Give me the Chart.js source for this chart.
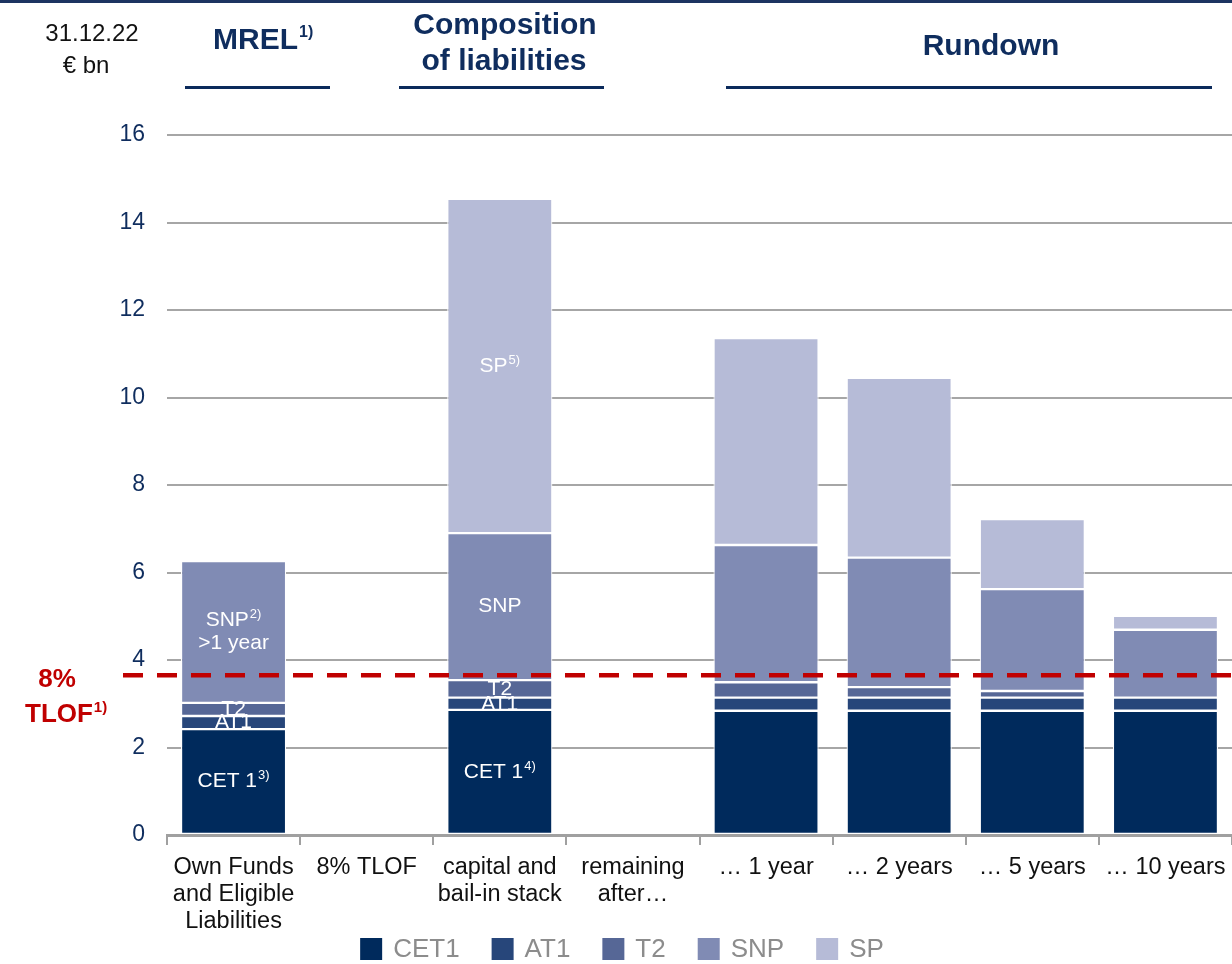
<!DOCTYPE html>
<html>
<head>
<meta charset="utf-8">
<title>MREL – capital and bail-in stack</title>
<script src="https://cdn.jsdelivr.net/npm/chart.js@4.4.1/dist/chart.umd.min.js"></script>
<style>
  html, body { margin: 0; padding: 0; background: #fff; overflow: hidden; }
  #wrap { width: 1232px; height: 964px; position: relative; }
</style>
</head>
<body>
<div id="wrap"><canvas id="c" width="1232" height="964"></canvas></div>
<script>
// Categories along the x axis (multi-line where the label wraps)
const categories = [
  ['Own Funds', 'and Eligible', 'Liabilities'],
  '8% TLOF',
  ['capital and', 'bail-in stack'],
  ['remaining', 'after…'],
  '… 1 year',
  '… 2 years',
  '… 5 years',
  '… 10 years'
];

// Stacked components, € bn (null = no bar in that column)
const cet1 = [2.42, null, 2.86, null, 2.84, 2.84, 2.84, 2.84];
const at1  = [0.30, null, 0.28, null, 0.30, 0.30, 0.30, 0.30];
const t2   = [0.30, null, 0.40, null, 0.35, 0.24, 0.15, 0];
const snp  = [3.24, null, 3.36, null, 3.14, 2.96, 2.33, 1.55];
const sp   = [null, null, 7.64, null, 4.73, 4.11, 1.60, 0.32];

const seriesNames = ['CET1', 'AT1', 'T2', 'SNP', 'SP'];
const seriesColors = ['#002A5C', '#27467A', '#566796', '#808BB4', '#B6BBD7'];

// 8% of total liabilities and own funds, € bn
const tlofThreshold = 3.65;

// Value axis
const yMin = 0, yMax = 16, yStep = 2;

// In-bar captions: [dataset index, category index, lines of [text, superscript]]
const segmentLabels = [
  [3, 0, [['SNP', '2)'], ['>1 year', '']]],
  [2, 0, [['T2', '']]],
  [1, 0, [['AT1', '']]],
  [0, 0, [['CET 1', '3)']]],
  [4, 2, [['SP', '5)']]],
  [3, 2, [['SNP', '']]],
  [2, 2, [['T2', '']]],
  [1, 2, [['AT1', '']]],
  [0, 2, [['CET 1', '4)']]]
];

const NAVY = '#0F2D5E';
const RED = '#C00000';
const FONT = 'Arial, "Liberation Sans", sans-serif';

// Draw text followed by a raised, smaller note marker
function textWithSup(ctx, x, y, main, sup, size, supSize, weight, align) {
  ctx.font = `${weight} ${size}px ${FONT}`;
  const w1 = ctx.measureText(main).width;
  ctx.font = `${weight} ${supSize}px ${FONT}`;
  const w2 = sup ? ctx.measureText(sup).width + 1 : 0;
  let left = x;
  if (align === 'center') left = x - (w1 + w2) / 2;
  ctx.textAlign = 'left';
  ctx.textBaseline = 'middle';
  ctx.font = `${weight} ${size}px ${FONT}`;
  ctx.fillText(main, left, y);
  if (sup) {
    ctx.font = `${weight} ${supSize}px ${FONT}`;
    ctx.fillText(sup, left + w1 + 1, y - size * 0.28);
  }
}

const decorations = {
  id: 'decorations',
  beforeDraw(chart) {
    const ctx = chart.ctx;
    ctx.save();
    ctx.fillStyle = '#fff';
    ctx.fillRect(0, 0, chart.width, chart.height);
    // top rule
    ctx.fillStyle = '#1C3461';
    ctx.fillRect(0, 0, chart.width, 3);

    // date / unit
    ctx.fillStyle = '#111';
    ctx.font = `24px ${FONT}`;
    ctx.textAlign = 'center';
    ctx.textBaseline = 'middle';
    ctx.fillText('31.12.22', 92, 34);
    ctx.fillText('€ bn', 86, 66);

    // section headings
    ctx.fillStyle = NAVY;
    textWithSup(ctx, 213, 41, 'MREL', '1)', 30, 16, 'bold', 'left');
    ctx.font = `bold 30px ${FONT}`;
    ctx.textAlign = 'center';
    ctx.fillText('Composition', 505, 26);
    ctx.fillText('of liabilities', 504, 62);
    ctx.fillText('Rundown', 991, 47);

    // heading underlines
    ctx.fillStyle = '#0B2A5B';
    ctx.fillRect(185, 86, 145, 3);
    ctx.fillRect(399, 86, 205, 3);
    ctx.fillRect(726, 86, 486, 3);

    // threshold caption
    ctx.fillStyle = RED;
    ctx.font = `bold 26px ${FONT}`;
    ctx.textAlign = 'center';
    ctx.fillText('8%', 57, 680);
    textWithSup(ctx, 25, 715, 'TLOF', '1)', 26, 15, 'bold', 'left');
    ctx.restore();
  },
  afterDatasetsDraw(chart) {
    const ctx = chart.ctx;
    const y = chart.scales.y;
    const area = chart.chartArea;
    ctx.save();

    // captions inside the stacked segments
    ctx.fillStyle = '#fff';
    segmentLabels.forEach(([ds, cat, lines]) => {
      const el = chart.getDatasetMeta(ds).data[cat];
      if (!el) return;
      const cx = el.x;
      const cy = (el.y + el.base) / 2;
      const lh = 23;
      const y0 = cy - (lines.length - 1) * lh / 2;
      lines.forEach(([txt, sup], i) => {
        textWithSup(ctx, cx, y0 + i * lh, txt, sup, 21, 13, 'normal', 'center');
      });
    });

    // 8% TLOF threshold line
    const py = y.getPixelForValue(tlofThreshold);
    ctx.strokeStyle = RED;
    ctx.lineWidth = 4.5;
    ctx.setLineDash([20, 14]);
    ctx.beginPath();
    ctx.moveTo(123, py);
    ctx.lineTo(area.right, py);
    ctx.stroke();
    ctx.setLineDash([]);

    // legend row
    ctx.font = `26px ${FONT}`;
    ctx.textBaseline = 'middle';
    ctx.textAlign = 'left';
    const box = 22, gapText = 11, gapItem = 32, ly = 949;
    const widths = chart.data.datasets.map(d => box + gapText + ctx.measureText(d.label).width);
    const total = widths.reduce((a, b) => a + b, 0) + gapItem * (widths.length - 1);
    let lx = 622 - total / 2;
    chart.data.datasets.forEach((d, i) => {
      ctx.fillStyle = d.backgroundColor;
      ctx.fillRect(lx, ly - box / 2, box, box);
      ctx.fillStyle = '#8C8C8C';
      ctx.fillText(d.label, lx + box + gapText, ly + 1);
      lx += widths[i] + gapItem;
    });
    ctx.restore();
  }
};

const seriesData = [cet1, at1, t2, snp, sp];

new Chart(document.getElementById('c'), {
  type: 'bar',
  data: {
    labels: categories,
    datasets: seriesData.map((values, i) => ({
      label: seriesNames[i],
      data: values,
      backgroundColor: seriesColors[i],
      borderColor: '#FFFFFF',
      borderWidth: 1.2,
      borderSkipped: false,
      barPercentage: 0.79,
      categoryPercentage: 1.0
    }))
  },
  options: {
    responsive: false,
    animation: false,
    devicePixelRatio: 1,
    layout: { padding: { top: 135, right: 0, left: 0, bottom: 29 } },
    plugins: {
      legend: { display: false },
      tooltip: { enabled: false }
    },
    scales: {
      x: {
        stacked: true,
        afterFit(scale) {
          scale.height = 100;
          // let the plot run to the right edge of the canvas
          scale.paddingRight = 0;
          scale.paddingLeft = 0;
        },
        grid: {
          display: true,
          drawOnChartArea: false,
          drawTicks: true,
          tickLength: 10,
          color: '#A0A0A0',
          lineWidth: 2,
          offset: true
        },
        border: { display: true, color: '#A0A0A0', width: 3 },
        ticks: {
          color: '#111',
          font: { family: FONT, size: 23.5, lineHeight: 1.15 },
          padding: 9,
          maxRotation: 0,
          autoSkip: false
        }
      },
      y: {
        stacked: true,
        min: yMin,
        max: yMax,
        afterFit(scale) { scale.width = 167; },
        grid: {
          color: '#A6A6A6',
          lineWidth: 2,
          drawTicks: false
        },
        border: { display: false },
        ticks: {
          stepSize: yStep,
          color: NAVY,
          padding: 22,
          font: { family: FONT, size: 23 }
        }
      }
    }
  },
  plugins: [decorations]
});
</script>
</body>
</html>
